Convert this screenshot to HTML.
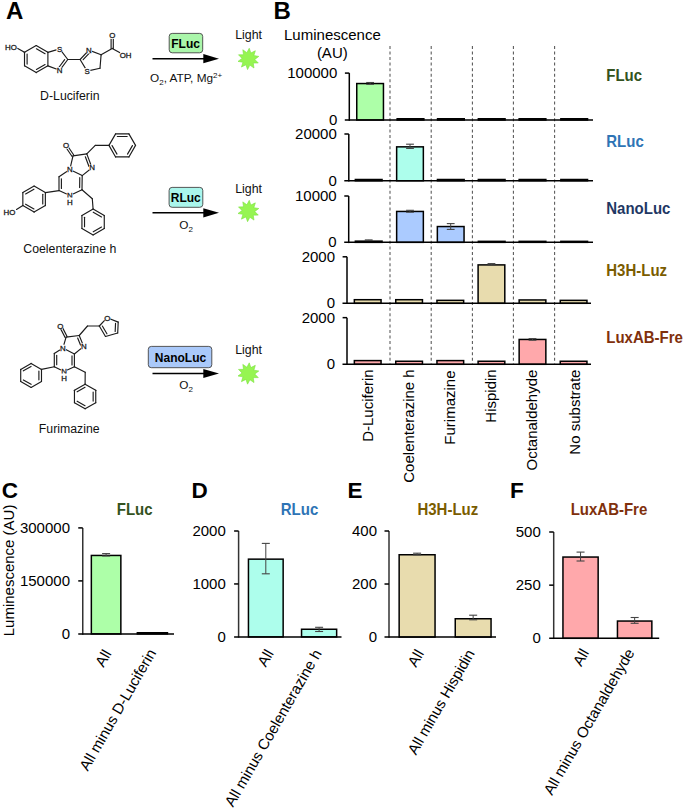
<!DOCTYPE html><html><head><meta charset="utf-8"><style>html,body{margin:0;padding:0;background:#fff;}svg{display:block;}text{font-family:"Liberation Sans", sans-serif;}</style></head><body>
<svg width="685" height="809" viewBox="0 0 685 809">
<rect width="685" height="809" fill="#fff"/>
<text x="6.00" y="19.20" font-size="24" text-anchor="start" font-weight="bold" fill="#000" >A</text>
<text x="273.40" y="19.20" font-size="24" text-anchor="start" font-weight="bold" fill="#000" >B</text>
<text x="1.80" y="497.60" font-size="22.5" text-anchor="start" font-weight="bold" fill="#000" >C</text>
<text x="191.40" y="498.40" font-size="22.5" text-anchor="start" font-weight="bold" fill="#000" >D</text>
<text x="347.60" y="498.40" font-size="22.5" text-anchor="start" font-weight="bold" fill="#000" >E</text>
<text x="510.00" y="498.00" font-size="22.5" text-anchor="start" font-weight="bold" fill="#000" >F</text>
<line x1="36.20" y1="45.60" x2="47.89" y2="52.35" stroke="#1c1c1c" stroke-width="1.15" stroke-linecap="round"/>
<line x1="47.89" y1="52.35" x2="47.89" y2="65.85" stroke="#1c1c1c" stroke-width="1.15" stroke-linecap="round"/>
<line x1="47.89" y1="65.85" x2="36.20" y2="72.60" stroke="#1c1c1c" stroke-width="1.15" stroke-linecap="round"/>
<line x1="36.20" y1="72.60" x2="24.51" y2="65.85" stroke="#1c1c1c" stroke-width="1.15" stroke-linecap="round"/>
<line x1="24.51" y1="65.85" x2="24.51" y2="52.35" stroke="#1c1c1c" stroke-width="1.15" stroke-linecap="round"/>
<line x1="24.51" y1="52.35" x2="36.20" y2="45.60" stroke="#1c1c1c" stroke-width="1.15" stroke-linecap="round"/>
<line x1="36.42" y1="48.73" x2="45.07" y2="53.72" stroke="#1c1c1c" stroke-width="1.15" stroke-linecap="round"/>
<line x1="45.07" y1="64.48" x2="36.42" y2="69.47" stroke="#1c1c1c" stroke-width="1.15" stroke-linecap="round"/>
<line x1="27.11" y1="64.09" x2="27.11" y2="54.11" stroke="#1c1c1c" stroke-width="1.15" stroke-linecap="round"/>
<line x1="47.89" y1="52.35" x2="59.70" y2="48.90" stroke="#1c1c1c" stroke-width="1.15" stroke-linecap="round"/>
<line x1="59.70" y1="48.90" x2="67.80" y2="59.50" stroke="#1c1c1c" stroke-width="1.15" stroke-linecap="round"/>
<line x1="67.80" y1="59.50" x2="59.70" y2="70.30" stroke="#1c1c1c" stroke-width="1.15" stroke-linecap="round"/>
<line x1="59.70" y1="70.30" x2="47.89" y2="65.85" stroke="#1c1c1c" stroke-width="1.15" stroke-linecap="round"/>
<line x1="64.66" y1="59.68" x2="58.99" y2="67.24" stroke="#1c1c1c" stroke-width="1.15" stroke-linecap="round"/>
<line x1="24.51" y1="52.35" x2="17.80" y2="48.40" stroke="#1c1c1c" stroke-width="1.15" stroke-linecap="round"/>
<line x1="67.80" y1="59.50" x2="80.10" y2="59.50" stroke="#1c1c1c" stroke-width="1.15" stroke-linecap="round"/>
<line x1="80.10" y1="59.50" x2="88.90" y2="50.10" stroke="#1c1c1c" stroke-width="1.15" stroke-linecap="round"/>
<line x1="88.90" y1="50.10" x2="101.10" y2="54.80" stroke="#1c1c1c" stroke-width="1.15" stroke-linecap="round"/>
<line x1="101.10" y1="54.80" x2="100.00" y2="68.20" stroke="#1c1c1c" stroke-width="1.15" stroke-linecap="round"/>
<line x1="100.00" y1="68.20" x2="87.10" y2="71.10" stroke="#1c1c1c" stroke-width="1.15" stroke-linecap="round"/>
<line x1="87.10" y1="71.10" x2="80.10" y2="59.50" stroke="#1c1c1c" stroke-width="1.15" stroke-linecap="round"/>
<line x1="83.17" y1="59.73" x2="89.33" y2="53.15" stroke="#1c1c1c" stroke-width="1.15" stroke-linecap="round"/>
<line x1="101.10" y1="54.80" x2="112.20" y2="48.40" stroke="#1c1c1c" stroke-width="1.15" stroke-linecap="round"/>
<line x1="113.30" y1="48.40" x2="113.30" y2="38.80" stroke="#1c1c1c" stroke-width="1.15" stroke-linecap="round"/>
<line x1="111.10" y1="48.40" x2="111.10" y2="38.80" stroke="#1c1c1c" stroke-width="1.15" stroke-linecap="round"/>
<line x1="112.20" y1="48.40" x2="119.60" y2="52.60" stroke="#1c1c1c" stroke-width="1.15" stroke-linecap="round"/>
<circle cx="59.70" cy="48.90" r="3.4" fill="#fff"/>
<text x="59.70" y="51.51" font-size="7.9" text-anchor="middle" font-weight="normal" fill="#1a1a1a" stroke="#1a1a1a" stroke-width="0.3">S</text>
<circle cx="59.70" cy="70.40" r="3.4" fill="#fff"/>
<text x="59.70" y="73.01" font-size="7.9" text-anchor="middle" font-weight="normal" fill="#1a1a1a" stroke="#1a1a1a" stroke-width="0.3">N</text>
<circle cx="88.90" cy="50.10" r="3.4" fill="#fff"/>
<text x="88.90" y="52.71" font-size="7.9" text-anchor="middle" font-weight="normal" fill="#1a1a1a" stroke="#1a1a1a" stroke-width="0.3">N</text>
<circle cx="87.10" cy="71.10" r="3.4" fill="#fff"/>
<text x="87.10" y="73.71" font-size="7.9" text-anchor="middle" font-weight="normal" fill="#1a1a1a" stroke="#1a1a1a" stroke-width="0.3">S</text>
<circle cx="112.20" cy="35.50" r="3.4" fill="#fff"/>
<text x="112.20" y="38.11" font-size="7.9" text-anchor="middle" font-weight="normal" fill="#1a1a1a" stroke="#1a1a1a" stroke-width="0.3">O</text>
<text x="125.60" y="58.20" font-size="7.9" text-anchor="middle" font-weight="normal" fill="#1a1a1a" stroke="#1a1a1a" stroke-width="0.3">OH</text>
<rect x="3" y="43" width="13.5" height="8" fill="#fff"/>
<text x="11.00" y="50.00" font-size="7.9" text-anchor="middle" font-weight="normal" fill="#1a1a1a" stroke="#1a1a1a" stroke-width="0.3">HO</text>
<text x="69.80" y="100.20" font-size="12.3" text-anchor="middle" font-weight="normal" fill="#111" >D-Luciferin</text>
<line x1="73.00" y1="155.90" x2="86.80" y2="153.90" stroke="#1c1c1c" stroke-width="1.15" stroke-linecap="round"/>
<line x1="86.80" y1="153.90" x2="92.00" y2="167.70" stroke="#1c1c1c" stroke-width="1.15" stroke-linecap="round"/>
<line x1="92.00" y1="167.70" x2="82.20" y2="175.60" stroke="#1c1c1c" stroke-width="1.15" stroke-linecap="round"/>
<line x1="82.20" y1="175.60" x2="69.80" y2="169.60" stroke="#1c1c1c" stroke-width="1.15" stroke-linecap="round"/>
<line x1="69.80" y1="169.60" x2="73.00" y2="155.90" stroke="#1c1c1c" stroke-width="1.15" stroke-linecap="round"/>
<line x1="69.80" y1="169.60" x2="59.00" y2="176.80" stroke="#1c1c1c" stroke-width="1.15" stroke-linecap="round"/>
<line x1="59.00" y1="176.80" x2="59.00" y2="190.60" stroke="#1c1c1c" stroke-width="1.15" stroke-linecap="round"/>
<line x1="59.00" y1="190.60" x2="69.90" y2="195.50" stroke="#1c1c1c" stroke-width="1.15" stroke-linecap="round"/>
<line x1="69.90" y1="195.50" x2="82.00" y2="189.70" stroke="#1c1c1c" stroke-width="1.15" stroke-linecap="round"/>
<line x1="82.00" y1="189.70" x2="82.20" y2="175.60" stroke="#1c1c1c" stroke-width="1.15" stroke-linecap="round"/>
<line x1="85.33" y1="156.82" x2="88.97" y2="166.48" stroke="#1c1c1c" stroke-width="1.15" stroke-linecap="round"/>
<line x1="61.40" y1="178.87" x2="61.40" y2="188.53" stroke="#1c1c1c" stroke-width="1.15" stroke-linecap="round"/>
<line x1="79.63" y1="187.55" x2="79.77" y2="177.68" stroke="#1c1c1c" stroke-width="1.15" stroke-linecap="round"/>
<line x1="73.91" y1="155.28" x2="68.32" y2="147.05" stroke="#1c1c1c" stroke-width="1.15" stroke-linecap="round"/>
<line x1="72.09" y1="156.52" x2="66.50" y2="148.29" stroke="#1c1c1c" stroke-width="1.15" stroke-linecap="round"/>
<line x1="86.80" y1="153.90" x2="95.30" y2="145.40" stroke="#1c1c1c" stroke-width="1.15" stroke-linecap="round"/>
<line x1="95.30" y1="145.40" x2="108.95" y2="145.40" stroke="#1c1c1c" stroke-width="1.15" stroke-linecap="round"/>
<line x1="108.95" y1="145.40" x2="115.60" y2="133.88" stroke="#1c1c1c" stroke-width="1.15" stroke-linecap="round"/>
<line x1="115.60" y1="133.88" x2="128.90" y2="133.88" stroke="#1c1c1c" stroke-width="1.15" stroke-linecap="round"/>
<line x1="128.90" y1="133.88" x2="135.55" y2="145.40" stroke="#1c1c1c" stroke-width="1.15" stroke-linecap="round"/>
<line x1="135.55" y1="145.40" x2="128.90" y2="156.92" stroke="#1c1c1c" stroke-width="1.15" stroke-linecap="round"/>
<line x1="128.90" y1="156.92" x2="115.60" y2="156.92" stroke="#1c1c1c" stroke-width="1.15" stroke-linecap="round"/>
<line x1="115.60" y1="156.92" x2="108.95" y2="145.40" stroke="#1c1c1c" stroke-width="1.15" stroke-linecap="round"/>
<line x1="117.33" y1="136.48" x2="127.17" y2="136.48" stroke="#1c1c1c" stroke-width="1.15" stroke-linecap="round"/>
<line x1="132.43" y1="145.60" x2="127.51" y2="154.12" stroke="#1c1c1c" stroke-width="1.15" stroke-linecap="round"/>
<line x1="116.99" y1="154.12" x2="112.07" y2="145.60" stroke="#1c1c1c" stroke-width="1.15" stroke-linecap="round"/>
<line x1="82.00" y1="189.70" x2="92.30" y2="198.70" stroke="#1c1c1c" stroke-width="1.15" stroke-linecap="round"/>
<line x1="92.30" y1="198.70" x2="93.10" y2="209.10" stroke="#1c1c1c" stroke-width="1.15" stroke-linecap="round"/>
<line x1="93.10" y1="209.10" x2="104.27" y2="215.55" stroke="#1c1c1c" stroke-width="1.15" stroke-linecap="round"/>
<line x1="104.27" y1="215.55" x2="104.27" y2="228.45" stroke="#1c1c1c" stroke-width="1.15" stroke-linecap="round"/>
<line x1="104.27" y1="228.45" x2="93.10" y2="234.90" stroke="#1c1c1c" stroke-width="1.15" stroke-linecap="round"/>
<line x1="93.10" y1="234.90" x2="81.93" y2="228.45" stroke="#1c1c1c" stroke-width="1.15" stroke-linecap="round"/>
<line x1="81.93" y1="228.45" x2="81.93" y2="215.55" stroke="#1c1c1c" stroke-width="1.15" stroke-linecap="round"/>
<line x1="81.93" y1="215.55" x2="93.10" y2="209.10" stroke="#1c1c1c" stroke-width="1.15" stroke-linecap="round"/>
<line x1="93.25" y1="212.19" x2="101.52" y2="216.96" stroke="#1c1c1c" stroke-width="1.15" stroke-linecap="round"/>
<line x1="101.52" y1="227.04" x2="93.25" y2="231.81" stroke="#1c1c1c" stroke-width="1.15" stroke-linecap="round"/>
<line x1="84.53" y1="226.77" x2="84.53" y2="217.23" stroke="#1c1c1c" stroke-width="1.15" stroke-linecap="round"/>
<line x1="59.00" y1="190.60" x2="45.36" y2="192.60" stroke="#1c1c1c" stroke-width="1.15" stroke-linecap="round"/>
<line x1="34.10" y1="186.10" x2="45.36" y2="192.60" stroke="#1c1c1c" stroke-width="1.15" stroke-linecap="round"/>
<line x1="45.36" y1="192.60" x2="45.36" y2="205.60" stroke="#1c1c1c" stroke-width="1.15" stroke-linecap="round"/>
<line x1="45.36" y1="205.60" x2="34.10" y2="212.10" stroke="#1c1c1c" stroke-width="1.15" stroke-linecap="round"/>
<line x1="34.10" y1="212.10" x2="22.84" y2="205.60" stroke="#1c1c1c" stroke-width="1.15" stroke-linecap="round"/>
<line x1="22.84" y1="205.60" x2="22.84" y2="192.60" stroke="#1c1c1c" stroke-width="1.15" stroke-linecap="round"/>
<line x1="22.84" y1="192.60" x2="34.10" y2="186.10" stroke="#1c1c1c" stroke-width="1.15" stroke-linecap="round"/>
<line x1="25.61" y1="194.01" x2="33.94" y2="189.20" stroke="#1c1c1c" stroke-width="1.15" stroke-linecap="round"/>
<line x1="42.76" y1="194.29" x2="42.76" y2="203.91" stroke="#1c1c1c" stroke-width="1.15" stroke-linecap="round"/>
<line x1="33.94" y1="209.00" x2="25.61" y2="204.19" stroke="#1c1c1c" stroke-width="1.15" stroke-linecap="round"/>
<line x1="22.84" y1="205.60" x2="16.50" y2="209.50" stroke="#1c1c1c" stroke-width="1.15" stroke-linecap="round"/>
<circle cx="66.00" cy="145.40" r="3.4" fill="#fff"/>
<text x="66.00" y="148.01" font-size="7.9" text-anchor="middle" font-weight="normal" fill="#1a1a1a" stroke="#1a1a1a" stroke-width="0.3">O</text>
<circle cx="92.20" cy="167.70" r="3.4" fill="#fff"/>
<text x="92.20" y="170.31" font-size="7.9" text-anchor="middle" font-weight="normal" fill="#1a1a1a" stroke="#1a1a1a" stroke-width="0.3">N</text>
<circle cx="69.80" cy="169.60" r="3.4" fill="#fff"/>
<text x="69.80" y="172.21" font-size="7.9" text-anchor="middle" font-weight="normal" fill="#1a1a1a" stroke="#1a1a1a" stroke-width="0.3">N</text>
<circle cx="69.90" cy="195.40" r="3.4" fill="#fff"/>
<text x="69.90" y="198.01" font-size="7.9" text-anchor="middle" font-weight="normal" fill="#1a1a1a" stroke="#1a1a1a" stroke-width="0.3">N</text>
<rect x="66.5" y="197.5" width="7" height="7.5" fill="#fff"/>
<text x="69.90" y="204.80" font-size="7.9" text-anchor="middle" font-weight="normal" fill="#1a1a1a" stroke="#1a1a1a" stroke-width="0.3">H</text>
<rect x="2" y="207" width="14" height="8" fill="#fff"/>
<text x="9.50" y="214.60" font-size="7.9" text-anchor="middle" font-weight="normal" fill="#1a1a1a" stroke="#1a1a1a" stroke-width="0.3">HO</text>
<text x="69.80" y="253.00" font-size="12.3" text-anchor="middle" font-weight="normal" fill="#111" >Coelenterazine h</text>
<line x1="66.10" y1="337.10" x2="79.20" y2="335.50" stroke="#1c1c1c" stroke-width="1.15" stroke-linecap="round"/>
<line x1="79.20" y1="335.50" x2="83.70" y2="346.40" stroke="#1c1c1c" stroke-width="1.15" stroke-linecap="round"/>
<line x1="83.70" y1="346.40" x2="74.40" y2="354.00" stroke="#1c1c1c" stroke-width="1.15" stroke-linecap="round"/>
<line x1="74.40" y1="354.00" x2="62.90" y2="348.00" stroke="#1c1c1c" stroke-width="1.15" stroke-linecap="round"/>
<line x1="62.90" y1="348.00" x2="66.10" y2="337.10" stroke="#1c1c1c" stroke-width="1.15" stroke-linecap="round"/>
<line x1="62.90" y1="348.00" x2="54.30" y2="353.40" stroke="#1c1c1c" stroke-width="1.15" stroke-linecap="round"/>
<line x1="54.30" y1="353.40" x2="54.30" y2="366.80" stroke="#1c1c1c" stroke-width="1.15" stroke-linecap="round"/>
<line x1="54.30" y1="366.80" x2="64.00" y2="371.60" stroke="#1c1c1c" stroke-width="1.15" stroke-linecap="round"/>
<line x1="64.00" y1="371.60" x2="74.40" y2="366.80" stroke="#1c1c1c" stroke-width="1.15" stroke-linecap="round"/>
<line x1="74.40" y1="366.80" x2="74.40" y2="354.00" stroke="#1c1c1c" stroke-width="1.15" stroke-linecap="round"/>
<line x1="77.66" y1="338.05" x2="80.81" y2="345.68" stroke="#1c1c1c" stroke-width="1.15" stroke-linecap="round"/>
<line x1="56.70" y1="355.41" x2="56.70" y2="364.79" stroke="#1c1c1c" stroke-width="1.15" stroke-linecap="round"/>
<line x1="72.00" y1="364.88" x2="72.00" y2="355.92" stroke="#1c1c1c" stroke-width="1.15" stroke-linecap="round"/>
<line x1="67.08" y1="336.60" x2="62.51" y2="327.63" stroke="#1c1c1c" stroke-width="1.15" stroke-linecap="round"/>
<line x1="65.12" y1="337.60" x2="60.55" y2="328.63" stroke="#1c1c1c" stroke-width="1.15" stroke-linecap="round"/>
<line x1="79.20" y1="335.50" x2="87.50" y2="326.00" stroke="#1c1c1c" stroke-width="1.15" stroke-linecap="round"/>
<line x1="87.50" y1="326.00" x2="99.30" y2="326.00" stroke="#1c1c1c" stroke-width="1.15" stroke-linecap="round"/>
<line x1="99.30" y1="326.00" x2="107.20" y2="317.70" stroke="#1c1c1c" stroke-width="1.15" stroke-linecap="round"/>
<line x1="107.20" y1="317.70" x2="118.20" y2="322.10" stroke="#1c1c1c" stroke-width="1.15" stroke-linecap="round"/>
<line x1="118.20" y1="322.10" x2="117.70" y2="333.00" stroke="#1c1c1c" stroke-width="1.15" stroke-linecap="round"/>
<line x1="117.70" y1="333.00" x2="105.50" y2="336.50" stroke="#1c1c1c" stroke-width="1.15" stroke-linecap="round"/>
<line x1="105.50" y1="336.50" x2="99.30" y2="326.00" stroke="#1c1c1c" stroke-width="1.15" stroke-linecap="round"/>
<line x1="115.54" y1="323.40" x2="115.17" y2="331.46" stroke="#1c1c1c" stroke-width="1.15" stroke-linecap="round"/>
<line x1="106.93" y1="333.81" x2="102.34" y2="326.04" stroke="#1c1c1c" stroke-width="1.15" stroke-linecap="round"/>
<line x1="74.40" y1="366.80" x2="85.20" y2="372.30" stroke="#1c1c1c" stroke-width="1.15" stroke-linecap="round"/>
<line x1="85.20" y1="372.30" x2="85.10" y2="384.20" stroke="#1c1c1c" stroke-width="1.15" stroke-linecap="round"/>
<line x1="85.10" y1="384.20" x2="95.75" y2="390.35" stroke="#1c1c1c" stroke-width="1.15" stroke-linecap="round"/>
<line x1="95.75" y1="390.35" x2="95.75" y2="402.65" stroke="#1c1c1c" stroke-width="1.15" stroke-linecap="round"/>
<line x1="95.75" y1="402.65" x2="85.10" y2="408.80" stroke="#1c1c1c" stroke-width="1.15" stroke-linecap="round"/>
<line x1="85.10" y1="408.80" x2="74.45" y2="402.65" stroke="#1c1c1c" stroke-width="1.15" stroke-linecap="round"/>
<line x1="74.45" y1="402.65" x2="74.45" y2="390.35" stroke="#1c1c1c" stroke-width="1.15" stroke-linecap="round"/>
<line x1="74.45" y1="390.35" x2="85.10" y2="384.20" stroke="#1c1c1c" stroke-width="1.15" stroke-linecap="round"/>
<line x1="77.13" y1="391.80" x2="85.02" y2="387.25" stroke="#1c1c1c" stroke-width="1.15" stroke-linecap="round"/>
<line x1="93.15" y1="391.95" x2="93.15" y2="401.05" stroke="#1c1c1c" stroke-width="1.15" stroke-linecap="round"/>
<line x1="85.02" y1="405.75" x2="77.13" y2="401.20" stroke="#1c1c1c" stroke-width="1.15" stroke-linecap="round"/>
<line x1="54.30" y1="366.80" x2="41.49" y2="369.40" stroke="#1c1c1c" stroke-width="1.15" stroke-linecap="round"/>
<line x1="31.10" y1="363.40" x2="41.49" y2="369.40" stroke="#1c1c1c" stroke-width="1.15" stroke-linecap="round"/>
<line x1="41.49" y1="369.40" x2="41.49" y2="381.40" stroke="#1c1c1c" stroke-width="1.15" stroke-linecap="round"/>
<line x1="41.49" y1="381.40" x2="31.10" y2="387.40" stroke="#1c1c1c" stroke-width="1.15" stroke-linecap="round"/>
<line x1="31.10" y1="387.40" x2="20.71" y2="381.40" stroke="#1c1c1c" stroke-width="1.15" stroke-linecap="round"/>
<line x1="20.71" y1="381.40" x2="20.71" y2="369.40" stroke="#1c1c1c" stroke-width="1.15" stroke-linecap="round"/>
<line x1="20.71" y1="369.40" x2="31.10" y2="363.40" stroke="#1c1c1c" stroke-width="1.15" stroke-linecap="round"/>
<line x1="23.36" y1="370.87" x2="31.05" y2="366.43" stroke="#1c1c1c" stroke-width="1.15" stroke-linecap="round"/>
<line x1="38.89" y1="370.96" x2="38.89" y2="379.84" stroke="#1c1c1c" stroke-width="1.15" stroke-linecap="round"/>
<line x1="31.05" y1="384.37" x2="23.36" y2="379.93" stroke="#1c1c1c" stroke-width="1.15" stroke-linecap="round"/>
<circle cx="60.40" cy="325.90" r="3.4" fill="#fff"/>
<text x="60.40" y="328.51" font-size="7.9" text-anchor="middle" font-weight="normal" fill="#1a1a1a" stroke="#1a1a1a" stroke-width="0.3">O</text>
<circle cx="83.80" cy="346.40" r="3.4" fill="#fff"/>
<text x="83.80" y="349.01" font-size="7.9" text-anchor="middle" font-weight="normal" fill="#1a1a1a" stroke="#1a1a1a" stroke-width="0.3">N</text>
<circle cx="62.90" cy="348.00" r="3.4" fill="#fff"/>
<text x="62.90" y="350.61" font-size="7.9" text-anchor="middle" font-weight="normal" fill="#1a1a1a" stroke="#1a1a1a" stroke-width="0.3">N</text>
<circle cx="64.00" cy="371.40" r="3.4" fill="#fff"/>
<text x="64.00" y="374.01" font-size="7.9" text-anchor="middle" font-weight="normal" fill="#1a1a1a" stroke="#1a1a1a" stroke-width="0.3">N</text>
<circle cx="107.20" cy="317.90" r="3.4" fill="#fff"/>
<text x="107.20" y="320.51" font-size="7.9" text-anchor="middle" font-weight="normal" fill="#1a1a1a" stroke="#1a1a1a" stroke-width="0.3">O</text>
<rect x="60.5" y="373.5" width="7" height="7.5" fill="#fff"/>
<text x="64.00" y="380.80" font-size="7.9" text-anchor="middle" font-weight="normal" fill="#1a1a1a" stroke="#1a1a1a" stroke-width="0.3">H</text>
<text x="69.20" y="433.30" font-size="12.3" text-anchor="middle" font-weight="normal" fill="#111" >Furimazine</text>
<rect x="169.2" y="33.4" width="33.5" height="19.4" rx="3" ry="3" fill="#aaf6aa" stroke="#444" stroke-width="0.9"/>
<text x="185.60" y="47.50" font-size="12" text-anchor="middle" font-weight="bold" fill="#000" >FLuc</text>
<line x1="152.50" y1="58.70" x2="204.30" y2="58.70" stroke="#000" stroke-width="1.6" />
<polygon points="203.30,54.10 219.00,58.70 203.30,63.30" fill="#000"/>
<text x="150.0" y="82.4" font-size="11.8" fill="#111">O<tspan font-size="8" dy="3">2</tspan><tspan dy="-3">, ATP, Mg</tspan><tspan font-size="8" dy="-4.8">2+</tspan></text>
<text x="248.60" y="38.90" font-size="12.4" text-anchor="middle" font-weight="normal" fill="#111" >Light</text>
<polygon points="249.24,48.23 250.85,52.99 255.35,50.76 253.86,55.56 258.80,56.40 254.78,59.40 258.29,62.99 253.27,63.06 253.99,68.02 249.89,65.12 247.56,69.57 245.95,64.81 241.45,67.04 242.94,62.24 238.00,61.40 242.02,58.40 238.51,54.81 243.53,54.74 242.81,49.78 246.91,52.68" fill="#96f552" stroke="#7ae23e" stroke-width="0.6" stroke-linejoin="round"/>
<rect x="169.1" y="187.4" width="33.70000000000002" height="19.900000000000006" rx="3" ry="3" fill="#aaf6ec" stroke="#444" stroke-width="0.9"/>
<text x="185.80" y="201.70" font-size="12" text-anchor="middle" font-weight="bold" fill="#000" >RLuc</text>
<line x1="152.50" y1="212.80" x2="204.30" y2="212.80" stroke="#000" stroke-width="1.6" />
<polygon points="203.30,208.20 219.00,212.80 203.30,217.40" fill="#000"/>
<text x="179.3" y="228.6" font-size="11.8" fill="#111">O<tspan font-size="8" dy="3">2</tspan></text>
<text x="248.60" y="192.60" font-size="12.4" text-anchor="middle" font-weight="normal" fill="#111" >Light</text>
<polygon points="249.24,200.33 250.85,205.09 255.35,202.86 253.86,207.66 258.80,208.50 254.78,211.50 258.29,215.09 253.27,215.16 253.99,220.12 249.89,217.22 247.56,221.67 245.95,216.91 241.45,219.14 242.94,214.34 238.00,213.50 242.02,210.50 238.51,206.91 243.53,206.84 242.81,201.88 246.91,204.78" fill="#96f552" stroke="#7ae23e" stroke-width="0.6" stroke-linejoin="round"/>
<rect x="148.3" y="346.4" width="63.5" height="21.30000000000001" rx="3" ry="3" fill="#aac9fa" stroke="#444" stroke-width="0.9"/>
<text x="180.50" y="361.60" font-size="12" text-anchor="middle" font-weight="bold" fill="#000" >NanoLuc</text>
<line x1="152.50" y1="373.50" x2="204.30" y2="373.50" stroke="#000" stroke-width="1.6" />
<polygon points="203.30,368.90 219.00,373.50 203.30,378.10" fill="#000"/>
<text x="179.3" y="388.6" font-size="11.8" fill="#111">O<tspan font-size="8" dy="3">2</tspan></text>
<text x="248.60" y="353.70" font-size="12.4" text-anchor="middle" font-weight="normal" fill="#111" >Light</text>
<polygon points="249.24,362.83 250.85,367.59 255.35,365.36 253.86,370.16 258.80,371.00 254.78,374.00 258.29,377.59 253.27,377.66 253.99,382.62 249.89,379.72 247.56,384.17 245.95,379.41 241.45,381.64 242.94,376.84 238.00,376.00 242.02,373.00 238.51,369.41 243.53,369.34 242.81,364.38 246.91,367.28" fill="#96f552" stroke="#7ae23e" stroke-width="0.6" stroke-linejoin="round"/>
<text x="332.40" y="40.20" font-size="15" text-anchor="middle" font-weight="normal" fill="#000" >Luminescence</text>
<text x="332.30" y="58.00" font-size="15" text-anchor="middle" font-weight="normal" fill="#000" >(AU)</text>
<line x1="390.0" y1="45.9" x2="390.0" y2="364.5" stroke="#555" stroke-width="1.05" stroke-dasharray="3,2.57"/>
<line x1="431.2" y1="45.9" x2="431.2" y2="364.5" stroke="#555" stroke-width="1.05" stroke-dasharray="3,2.57"/>
<line x1="472.4" y1="45.9" x2="472.4" y2="364.5" stroke="#555" stroke-width="1.05" stroke-dasharray="3,2.57"/>
<line x1="513.4" y1="45.9" x2="513.4" y2="364.5" stroke="#555" stroke-width="1.05" stroke-dasharray="3,2.57"/>
<line x1="554.6" y1="45.9" x2="554.6" y2="364.5" stroke="#555" stroke-width="1.05" stroke-dasharray="3,2.57"/>
<rect x="356.75" y="83.55" width="26.70" height="36.45" fill="#adffa8" stroke="#000" stroke-width="1.5"/>
<line x1="370.10" y1="82.50" x2="370.10" y2="84.30" stroke="#444" stroke-width="1.0" />
<line x1="366.20" y1="82.50" x2="374.00" y2="82.50" stroke="#444" stroke-width="1.1" />
<line x1="366.20" y1="84.30" x2="374.00" y2="84.30" stroke="#444" stroke-width="1.1" />
<rect x="397.15" y="118.75" width="26.70" height="1.25" fill="#adffa8" stroke="#000" stroke-width="1.5"/>
<rect x="437.55" y="118.75" width="26.70" height="1.25" fill="#adffa8" stroke="#000" stroke-width="1.5"/>
<rect x="478.35" y="118.75" width="26.70" height="1.25" fill="#adffa8" stroke="#000" stroke-width="1.5"/>
<rect x="519.15" y="118.75" width="26.70" height="1.25" fill="#adffa8" stroke="#000" stroke-width="1.5"/>
<rect x="560.85" y="118.75" width="26.70" height="1.25" fill="#adffa8" stroke="#000" stroke-width="1.5"/>
<line x1="349.30" y1="73.10" x2="349.30" y2="120.75" stroke="#000" stroke-width="1.5" />
<line x1="344.90" y1="73.10" x2="349.30" y2="73.10" stroke="#000" stroke-width="1.5" />
<line x1="344.80" y1="120.00" x2="593.00" y2="120.00" stroke="#000" stroke-width="1.5" />
<text x="337.30" y="78.20" font-size="15" text-anchor="end" font-weight="normal" fill="#000" >100000</text>
<text x="337.30" y="125.10" font-size="15" text-anchor="end" font-weight="normal" fill="#000" >0</text>
<rect x="355.35" y="179.50" width="26.70" height="1.25" fill="#adfeec" stroke="#000" stroke-width="1.5"/>
<rect x="396.65" y="146.85" width="26.70" height="33.90" fill="#adfeec" stroke="#000" stroke-width="1.5"/>
<line x1="410.00" y1="144.20" x2="410.00" y2="148.40" stroke="#444" stroke-width="1.0" />
<line x1="406.10" y1="144.20" x2="413.90" y2="144.20" stroke="#444" stroke-width="1.1" />
<line x1="406.10" y1="148.40" x2="413.90" y2="148.40" stroke="#444" stroke-width="1.1" />
<rect x="437.45" y="179.50" width="26.70" height="1.25" fill="#adfeec" stroke="#000" stroke-width="1.5"/>
<rect x="478.35" y="179.50" width="26.70" height="1.25" fill="#adfeec" stroke="#000" stroke-width="1.5"/>
<rect x="519.15" y="179.50" width="26.70" height="1.25" fill="#adfeec" stroke="#000" stroke-width="1.5"/>
<rect x="560.85" y="179.50" width="26.70" height="1.25" fill="#adfeec" stroke="#000" stroke-width="1.5"/>
<line x1="348.80" y1="134.00" x2="348.80" y2="181.50" stroke="#000" stroke-width="1.5" />
<line x1="344.40" y1="134.00" x2="348.80" y2="134.00" stroke="#000" stroke-width="1.5" />
<line x1="344.30" y1="180.75" x2="593.00" y2="180.75" stroke="#000" stroke-width="1.5" />
<text x="336.80" y="139.10" font-size="15" text-anchor="end" font-weight="normal" fill="#000" >20000</text>
<text x="336.80" y="185.85" font-size="15" text-anchor="end" font-weight="normal" fill="#000" >0</text>
<rect x="355.35" y="241.15" width="26.70" height="1.20" fill="#abcbff" stroke="#000" stroke-width="1.5"/>
<line x1="368.70" y1="239.90" x2="368.70" y2="240.70" stroke="#444" stroke-width="1.0" />
<line x1="364.80" y1="239.90" x2="372.60" y2="239.90" stroke="#444" stroke-width="1.1" />
<line x1="364.80" y1="240.70" x2="372.60" y2="240.70" stroke="#444" stroke-width="1.1" />
<rect x="396.65" y="211.45" width="26.70" height="30.90" fill="#abcbff" stroke="#000" stroke-width="1.5"/>
<line x1="410.00" y1="210.30" x2="410.00" y2="212.20" stroke="#444" stroke-width="1.0" />
<line x1="406.10" y1="210.30" x2="413.90" y2="210.30" stroke="#444" stroke-width="1.1" />
<line x1="406.10" y1="212.20" x2="413.90" y2="212.20" stroke="#444" stroke-width="1.1" />
<rect x="437.35" y="226.55" width="26.70" height="15.80" fill="#abcbff" stroke="#000" stroke-width="1.5"/>
<line x1="450.70" y1="223.60" x2="450.70" y2="229.40" stroke="#444" stroke-width="1.0" />
<line x1="446.80" y1="223.60" x2="454.60" y2="223.60" stroke="#444" stroke-width="1.1" />
<line x1="446.80" y1="229.40" x2="454.60" y2="229.40" stroke="#444" stroke-width="1.1" />
<rect x="478.35" y="241.35" width="26.70" height="1.00" fill="#abcbff" stroke="#000" stroke-width="1.5"/>
<rect x="519.15" y="241.35" width="26.70" height="1.00" fill="#abcbff" stroke="#000" stroke-width="1.5"/>
<rect x="560.85" y="241.35" width="26.70" height="1.00" fill="#abcbff" stroke="#000" stroke-width="1.5"/>
<line x1="348.70" y1="196.00" x2="348.70" y2="243.10" stroke="#000" stroke-width="1.5" />
<line x1="344.30" y1="196.00" x2="348.70" y2="196.00" stroke="#000" stroke-width="1.5" />
<line x1="344.20" y1="242.35" x2="593.00" y2="242.35" stroke="#000" stroke-width="1.5" />
<text x="336.70" y="201.10" font-size="15" text-anchor="end" font-weight="normal" fill="#000" >10000</text>
<text x="336.70" y="247.45" font-size="15" text-anchor="end" font-weight="normal" fill="#000" >0</text>
<rect x="354.35" y="299.70" width="26.70" height="3.60" fill="#e8dcae" stroke="#000" stroke-width="1.5"/>
<rect x="395.75" y="299.70" width="26.70" height="3.60" fill="#e8dcae" stroke="#000" stroke-width="1.5"/>
<rect x="436.95" y="300.35" width="26.70" height="2.95" fill="#e8dcae" stroke="#000" stroke-width="1.5"/>
<rect x="478.10" y="264.90" width="26.70" height="38.40" fill="#e8dcae" stroke="#000" stroke-width="1.5"/>
<line x1="491.45" y1="263.60" x2="491.45" y2="264.90" stroke="#444" stroke-width="1.0" />
<line x1="487.55" y1="263.60" x2="495.35" y2="263.60" stroke="#444" stroke-width="1.1" />
<line x1="487.55" y1="264.90" x2="495.35" y2="264.90" stroke="#444" stroke-width="1.1" />
<rect x="519.15" y="299.95" width="26.70" height="3.35" fill="#e8dcae" stroke="#000" stroke-width="1.5"/>
<rect x="560.25" y="300.35" width="26.70" height="2.95" fill="#e8dcae" stroke="#000" stroke-width="1.5"/>
<line x1="347.00" y1="256.80" x2="347.00" y2="304.05" stroke="#000" stroke-width="1.5" />
<line x1="342.60" y1="256.80" x2="347.00" y2="256.80" stroke="#000" stroke-width="1.5" />
<line x1="342.50" y1="303.30" x2="591.00" y2="303.30" stroke="#000" stroke-width="1.5" />
<text x="335.00" y="261.90" font-size="15" text-anchor="end" font-weight="normal" fill="#000" >2000</text>
<text x="335.00" y="308.40" font-size="15" text-anchor="end" font-weight="normal" fill="#000" >0</text>
<rect x="354.35" y="360.60" width="26.70" height="3.70" fill="#ffa8ab" stroke="#000" stroke-width="1.5"/>
<rect x="395.75" y="361.25" width="26.70" height="3.05" fill="#ffa8ab" stroke="#000" stroke-width="1.5"/>
<rect x="436.95" y="360.60" width="26.70" height="3.70" fill="#ffa8ab" stroke="#000" stroke-width="1.5"/>
<rect x="478.10" y="361.25" width="26.70" height="3.05" fill="#ffa8ab" stroke="#000" stroke-width="1.5"/>
<rect x="519.15" y="339.45" width="26.70" height="24.85" fill="#ffa8ab" stroke="#000" stroke-width="1.5"/>
<line x1="532.50" y1="338.60" x2="532.50" y2="340.20" stroke="#444" stroke-width="1.0" />
<line x1="528.60" y1="338.60" x2="536.40" y2="338.60" stroke="#444" stroke-width="1.1" />
<line x1="528.60" y1="340.20" x2="536.40" y2="340.20" stroke="#444" stroke-width="1.1" />
<rect x="560.25" y="361.25" width="26.70" height="3.05" fill="#ffa8ab" stroke="#000" stroke-width="1.5"/>
<line x1="347.00" y1="317.65" x2="347.00" y2="365.05" stroke="#000" stroke-width="1.5" />
<line x1="342.60" y1="317.65" x2="347.00" y2="317.65" stroke="#000" stroke-width="1.5" />
<line x1="342.50" y1="364.30" x2="591.00" y2="364.30" stroke="#000" stroke-width="1.5" />
<text x="335.00" y="322.75" font-size="15" text-anchor="end" font-weight="normal" fill="#000" >2000</text>
<text x="335.00" y="369.40" font-size="15" text-anchor="end" font-weight="normal" fill="#000" >0</text>
<text x="0.00" y="0.00" font-size="15" text-anchor="end" font-weight="normal" fill="#000" transform="translate(372.6,369.3) rotate(-90)" >D-Luciferin</text>
<text x="0.00" y="0.00" font-size="15" text-anchor="end" font-weight="normal" fill="#000" transform="translate(414.0,369.3) rotate(-90)" >Coelenterazine h</text>
<text x="0.00" y="0.00" font-size="15" text-anchor="end" font-weight="normal" fill="#000" transform="translate(455.3,370.5) rotate(-90)" >Furimazine</text>
<text x="0.00" y="0.00" font-size="15" text-anchor="end" font-weight="normal" fill="#000" transform="translate(496.3,369.3) rotate(-90)" >Hispidin</text>
<text x="0.00" y="0.00" font-size="15" text-anchor="end" font-weight="normal" fill="#000" transform="translate(537.4,369.6) rotate(-90)" >Octanaldehyde</text>
<text x="0.00" y="0.00" font-size="15" text-anchor="end" font-weight="normal" fill="#000" transform="translate(579.6,369.6) rotate(-90)" >No substrate</text>
<text x="0.00" y="0.00" font-size="15" text-anchor="start" font-weight="bold" fill="#335220" transform="translate(606.3,81.0) scale(1,1.07)" >FLuc</text>
<text x="0.00" y="0.00" font-size="15" text-anchor="start" font-weight="bold" fill="#2e74b5" transform="translate(606.3,146.9) scale(1,1.07)" >RLuc</text>
<text x="0.00" y="0.00" font-size="15" text-anchor="start" font-weight="bold" fill="#1f3864" transform="translate(606.3,213.7) scale(1,1.07)" >NanoLuc</text>
<text x="0.00" y="0.00" font-size="15" text-anchor="start" font-weight="bold" fill="#7a5c00" transform="translate(606.3,275.6) scale(1,1.07)" >H3H-Luz</text>
<text x="0.00" y="0.00" font-size="15" text-anchor="start" font-weight="bold" fill="#80300c" transform="translate(606.3,343.4) scale(1,1.07)" >LuxAB-Fre</text>
<rect x="91.35" y="555.45" width="29.50" height="78.45" fill="#adffa8" stroke="#000" stroke-width="1.5"/>
<line x1="106.10" y1="553.60" x2="106.10" y2="556.00" stroke="#444" stroke-width="1.0" />
<line x1="102.10" y1="553.60" x2="110.10" y2="553.60" stroke="#444" stroke-width="1.1" />
<line x1="102.10" y1="556.00" x2="110.10" y2="556.00" stroke="#444" stroke-width="1.1" />
<rect x="137.35" y="632.75" width="30.10" height="1.15" fill="#adffa8" stroke="#000" stroke-width="1.5"/>
<line x1="82.75" y1="527.90" x2="82.75" y2="634.65" stroke="#333" stroke-width="1.5" />
<line x1="78.25" y1="527.90" x2="82.75" y2="527.90" stroke="#000" stroke-width="1.5" />
<line x1="78.25" y1="580.90" x2="82.75" y2="580.90" stroke="#000" stroke-width="1.5" />
<line x1="78.25" y1="633.90" x2="174.00" y2="633.90" stroke="#000" stroke-width="1.5" />
<text x="70.00" y="533.00" font-size="15" text-anchor="end" font-weight="normal" fill="#000" >300000</text>
<text x="70.00" y="586.00" font-size="15" text-anchor="end" font-weight="normal" fill="#000" >150000</text>
<text x="70.00" y="639.00" font-size="15" text-anchor="end" font-weight="normal" fill="#000" >0</text>
<text x="0.00" y="0.00" font-size="15" text-anchor="middle" font-weight="bold" fill="#335220" transform="translate(134.7,515.0) scale(1,1.07)" >FLuc</text>
<text x="0.00" y="0.00" font-size="15" text-anchor="end" font-weight="normal" fill="#000" transform="translate(111.90,653.60) rotate(-60)" >All</text>
<text x="0.00" y="0.00" font-size="15" text-anchor="end" font-weight="normal" fill="#000" transform="translate(156.60,652.70) rotate(-60)" >All minus D-Luciferin</text>
<rect x="248.45" y="559.15" width="34.70" height="77.75" fill="#adfeec" stroke="#000" stroke-width="1.5"/>
<line x1="265.80" y1="543.40" x2="265.80" y2="573.80" stroke="#444" stroke-width="1.0" />
<line x1="261.80" y1="543.40" x2="269.80" y2="543.40" stroke="#444" stroke-width="1.1" />
<line x1="261.80" y1="573.80" x2="269.80" y2="573.80" stroke="#444" stroke-width="1.1" />
<rect x="301.55" y="629.25" width="35.10" height="7.65" fill="#adfeec" stroke="#000" stroke-width="1.5"/>
<line x1="319.10" y1="627.30" x2="319.10" y2="631.50" stroke="#444" stroke-width="1.0" />
<line x1="315.10" y1="627.30" x2="323.10" y2="627.30" stroke="#444" stroke-width="1.1" />
<line x1="315.10" y1="631.50" x2="323.10" y2="631.50" stroke="#444" stroke-width="1.1" />
<line x1="238.60" y1="531.00" x2="238.60" y2="637.65" stroke="#333" stroke-width="1.5" />
<line x1="234.10" y1="531.00" x2="238.60" y2="531.00" stroke="#000" stroke-width="1.5" />
<line x1="234.10" y1="583.95" x2="238.60" y2="583.95" stroke="#000" stroke-width="1.5" />
<line x1="234.10" y1="636.90" x2="341.50" y2="636.90" stroke="#000" stroke-width="1.5" />
<text x="225.80" y="536.10" font-size="15" text-anchor="end" font-weight="normal" fill="#000" >2000</text>
<text x="225.80" y="589.05" font-size="15" text-anchor="end" font-weight="normal" fill="#000" >1000</text>
<text x="225.80" y="642.00" font-size="15" text-anchor="end" font-weight="normal" fill="#000" >0</text>
<text x="0.00" y="0.00" font-size="15" text-anchor="middle" font-weight="bold" fill="#2e74b5" transform="translate(299.5,515.0) scale(1,1.07)" >RLuc</text>
<text x="0.00" y="0.00" font-size="15" text-anchor="end" font-weight="normal" fill="#000" transform="translate(274.20,653.30) rotate(-60)" >All</text>
<text x="0.00" y="0.00" font-size="15" text-anchor="end" font-weight="normal" fill="#000" transform="translate(322.30,653.30) rotate(-60)" >All minus Coelenterazine h</text>
<rect x="399.15" y="554.75" width="35.90" height="82.30" fill="#e8dcae" stroke="#000" stroke-width="1.5"/>
<line x1="417.10" y1="553.20" x2="417.10" y2="554.80" stroke="#444" stroke-width="1.0" />
<line x1="413.10" y1="553.20" x2="421.10" y2="553.20" stroke="#444" stroke-width="1.1" />
<line x1="413.10" y1="554.80" x2="421.10" y2="554.80" stroke="#444" stroke-width="1.1" />
<rect x="455.25" y="618.75" width="35.80" height="18.30" fill="#e8dcae" stroke="#000" stroke-width="1.5"/>
<line x1="473.15" y1="615.20" x2="473.15" y2="619.80" stroke="#444" stroke-width="1.0" />
<line x1="469.15" y1="615.20" x2="477.15" y2="615.20" stroke="#444" stroke-width="1.1" />
<line x1="469.15" y1="619.80" x2="477.15" y2="619.80" stroke="#444" stroke-width="1.1" />
<line x1="389.00" y1="531.00" x2="389.00" y2="637.80" stroke="#333" stroke-width="1.5" />
<line x1="384.50" y1="531.00" x2="389.00" y2="531.00" stroke="#000" stroke-width="1.5" />
<line x1="384.50" y1="584.02" x2="389.00" y2="584.02" stroke="#000" stroke-width="1.5" />
<line x1="384.50" y1="637.05" x2="496.00" y2="637.05" stroke="#000" stroke-width="1.5" />
<text x="377.00" y="536.10" font-size="15" text-anchor="end" font-weight="normal" fill="#000" >400</text>
<text x="377.00" y="589.12" font-size="15" text-anchor="end" font-weight="normal" fill="#000" >200</text>
<text x="377.00" y="642.15" font-size="15" text-anchor="end" font-weight="normal" fill="#000" >0</text>
<text x="0.00" y="0.00" font-size="15" text-anchor="middle" font-weight="bold" fill="#7a5c00" transform="translate(447.8,515.0) scale(1,1.07)" >H3H-Luz</text>
<text x="0.00" y="0.00" font-size="15" text-anchor="end" font-weight="normal" fill="#000" transform="translate(424.30,653.45) rotate(-60)" >All</text>
<text x="0.00" y="0.00" font-size="15" text-anchor="end" font-weight="normal" fill="#000" transform="translate(475.20,653.15) rotate(-60)" >All minus Hispidin</text>
<rect x="562.95" y="557.05" width="35.20" height="81.25" fill="#ffa8ab" stroke="#000" stroke-width="1.5"/>
<line x1="580.55" y1="552.10" x2="580.55" y2="561.00" stroke="#444" stroke-width="1.0" />
<line x1="576.55" y1="552.10" x2="584.55" y2="552.10" stroke="#444" stroke-width="1.1" />
<line x1="576.55" y1="561.00" x2="584.55" y2="561.00" stroke="#444" stroke-width="1.1" />
<rect x="617.45" y="621.05" width="34.40" height="17.25" fill="#ffa8ab" stroke="#000" stroke-width="1.5"/>
<line x1="634.65" y1="617.50" x2="634.65" y2="623.30" stroke="#444" stroke-width="1.0" />
<line x1="630.65" y1="617.50" x2="638.65" y2="617.50" stroke="#444" stroke-width="1.1" />
<line x1="630.65" y1="623.30" x2="638.65" y2="623.30" stroke="#444" stroke-width="1.1" />
<line x1="553.70" y1="532.00" x2="553.70" y2="639.05" stroke="#333" stroke-width="1.5" />
<line x1="549.20" y1="532.00" x2="553.70" y2="532.00" stroke="#000" stroke-width="1.5" />
<line x1="549.20" y1="585.15" x2="553.70" y2="585.15" stroke="#000" stroke-width="1.5" />
<line x1="549.20" y1="638.30" x2="659.20" y2="638.30" stroke="#000" stroke-width="1.5" />
<text x="540.80" y="537.10" font-size="15" text-anchor="end" font-weight="normal" fill="#000" >500</text>
<text x="540.80" y="590.25" font-size="15" text-anchor="end" font-weight="normal" fill="#000" >250</text>
<text x="540.80" y="643.40" font-size="15" text-anchor="end" font-weight="normal" fill="#000" >0</text>
<text x="0.00" y="0.00" font-size="15" text-anchor="middle" font-weight="bold" fill="#80300c" transform="translate(609.0,515.0) scale(1,1.07)" >LuxAB-Fre</text>
<text x="0.00" y="0.00" font-size="15" text-anchor="end" font-weight="normal" fill="#000" transform="translate(589.50,652.70) rotate(-60)" >All</text>
<text x="0.00" y="0.00" font-size="15" text-anchor="end" font-weight="normal" fill="#000" transform="translate(634.90,652.40) rotate(-60)" >All minus Octanaldehyde</text>
<text x="0.00" y="0.00" font-size="15" text-anchor="start" font-weight="normal" fill="#000" transform="translate(14.4,636.3) rotate(-90)" >Luminescence (AU)</text>
</svg></body></html>
